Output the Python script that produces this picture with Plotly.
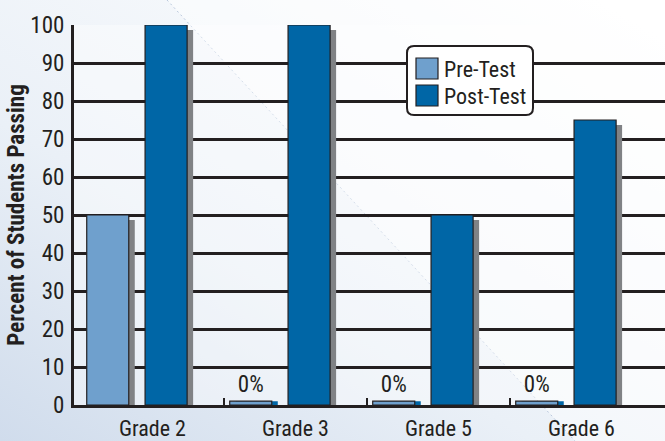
import base64
import plotly.graph_objects as go

# ---- data ----
categories = ["Grade 2", "Grade 3", "Grade 5", "Grade 6"]
pre_test = [50, 0, 0, 0]
post_test = [100, 100, 50, 75]
y_ticks = [0, 10, 20, 30, 40, 50, 60, 70, 80, 90, 100]
series_names = ["Pre-Test", "Post-Test"]
y_title = "Percent of Students Passing"

# ---- style ----
FONT = "Liberation Sans Narrow, Arial Narrow, Roboto Condensed, DejaVu Sans Condensed, sans-serif"
DARK = "#231f20"
PRE_COLOR = "#6fa0cd"
POST_COLOR = "#0066a6"
SHADOW = "#808285"
W, H = 665, 441
ML, MR, MT, MB = 74, 0, 25, 36
PW, PH = W - ML - MR, H - MT - MB

BAR_W = 0.294
PRE_OFF = -0.46
POST_OFF = -0.052
SH_DX = 0.042      # shadow shift right (data units)
SH_DY = 1.3        # shadow shift down (data units)
MIN_VIS = 1.0      # visible stub for zero values

x = list(range(len(categories)))
pre_disp = [max(v, MIN_VIS) for v in pre_test]
post_disp = [max(v, MIN_VIS) for v in post_test]


def shadow_vals(vals):
    return [v - SH_DY if v > SH_DY * 2 else v for v in vals]


def shadow_cols(vals):
    return [SHADOW if v > SH_DY * 2 else POST_COLOR for v in vals]


fig = go.Figure()
# shadows
fig.add_trace(go.Bar(x=x, y=shadow_vals(pre_disp), width=BAR_W, offset=PRE_OFF + SH_DX,
                     marker=dict(color=shadow_cols(pre_disp), line=dict(width=0)),
                     showlegend=False, hoverinfo="skip"))
fig.add_trace(go.Bar(x=x, y=shadow_vals(post_disp), width=BAR_W, offset=POST_OFF + SH_DX,
                     marker=dict(color=shadow_cols(post_disp), line=dict(width=0)),
                     showlegend=False, hoverinfo="skip"))
# bars
fig.add_trace(go.Bar(x=x, y=pre_disp, width=BAR_W, offset=PRE_OFF, name=series_names[0],
                     marker=dict(color=PRE_COLOR, line=dict(color=DARK, width=1.2)),
                     text=["0%" if v == 0 else "" for v in pre_test],
                     textposition="outside", cliponaxis=False,
                     textfont=dict(family=FONT, size=23, color=DARK),
                     showlegend=False))
fig.add_trace(go.Bar(x=x, y=post_disp, width=BAR_W, offset=POST_OFF, name=series_names[1],
                     marker=dict(color=POST_COLOR, line=dict(color=DARK, width=1.2)),
                     text=["0%" if v == 0 else "" for v in post_test],
                     textposition="outside", cliponaxis=False,
                     textfont=dict(family=FONT, size=23, color=DARK),
                     showlegend=False))

# ---- background (gradient) ----
svg = f'''<svg xmlns="http://www.w3.org/2000/svg" width="{W}" height="{H}" viewBox="0 0 {W} {H}">
<defs><linearGradient id="g" x1="0" y1="1" x2="0.9" y2="0">
<stop offset="0" stop-color="#d0dcec"/><stop offset="0.4" stop-color="#eaf0f7"/><stop offset="1" stop-color="#ffffff"/>
</linearGradient></defs>
<rect width="{W}" height="{H}" fill="url(#g)"/>
<polygon points="167,0 {W},0 {W},{H} 575,{H}" fill="#ffffff" opacity="0.45"/>
<line x1="167" y1="0" x2="575" y2="{H}" stroke="#a9bbd4" stroke-width="1" stroke-dasharray="2,3" opacity="0.8"/>
</svg>'''
src = "data:image/svg+xml;base64," + base64.b64encode(svg.encode()).decode()


def px(xp):
    return (xp - ML) / PW


def py(yp):
    return (H - MB - yp) / PH


shapes = [
    dict(type="rect", xref="paper", yref="paper", x0=0, x1=1, y0=0, y1=1,
         fillcolor="rgba(255,255,255,0.4)", line=dict(width=0), layer="below"),
]

# legend box (rounded)
bx0, by0, bx1, by1, r = 407, 46, 533, 115, 7
path = (f"M {px(bx0 + r)},{py(by0)} L {px(bx1 - r)},{py(by0)} "
        f"Q {px(bx1)},{py(by0)} {px(bx1)},{py(by0 + r)} L {px(bx1)},{py(by1 - r)} "
        f"Q {px(bx1)},{py(by1)} {px(bx1 - r)},{py(by1)} L {px(bx0 + r)},{py(by1)} "
        f"Q {px(bx0)},{py(by1)} {px(bx0)},{py(by1 - r)} L {px(bx0)},{py(by0 + r)} "
        f"Q {px(bx0)},{py(by0)} {px(bx0 + r)},{py(by0)} Z")
shapes.append(dict(type="path", xref="paper", yref="paper", path=path,
                   fillcolor="white", line=dict(color=DARK, width=2)))
annotations = []
for i, (name, col) in enumerate(zip(series_names, [PRE_COLOR, POST_COLOR])):
    top = 58 + i * 27
    shapes.append(dict(type="rect", xref="paper", yref="paper",
                       x0=px(416), x1=px(438), y0=py(top + 21), y1=py(top),
                       fillcolor=col, line=dict(color=DARK, width=1.2)))
    annotations.append(dict(xref="paper", yref="paper", x=px(442), y=py(top + 11),
                            xanchor="left", yanchor="middle", showarrow=False,
                            text=name, font=dict(family=FONT, size=22, color=DARK)))

fig.update_layout(
    width=W, height=H,
    margin=dict(l=ML, r=MR, t=MT, b=MB),
    paper_bgcolor="white",
    plot_bgcolor="rgba(0,0,0,0)",
    barmode="overlay",
    font=dict(family=FONT, size=22, color=DARK),
    images=[dict(source=src, xref="paper", yref="paper",
                 x=-ML / PW, y=1 + MT / PH, sizex=W / PW, sizey=H / PH,
                 xanchor="left", yanchor="top", sizing="stretch", layer="below")],
    shapes=shapes,
    annotations=annotations,
    xaxis=dict(range=[-0.549, 3.584], tickmode="array", tickvals=x, ticktext=categories,
               showgrid=False, zeroline=False, showline=True, linecolor=DARK, linewidth=3,
               ticks="", ticklabelstandoff=2,
               minor=dict(tickmode="array", tickvals=[i + 0.5 for i in x[:-1]],
                          ticks="inside", ticklen=7, tickwidth=2, tickcolor=DARK, showgrid=False),
               tickfont=dict(family=FONT, size=22, color=DARK), fixedrange=True),
    yaxis=dict(range=[0, 100], tickmode="array", tickvals=y_ticks,
               showgrid=True, gridcolor=DARK, gridwidth=2.5, zeroline=False,
               showline=True, linecolor=DARK, linewidth=3, ticks="", ticklabelstandoff=2,
               tickfont=dict(family=FONT, size=23, color=DARK),
               title=dict(text=f"<b>{y_title}</b>", standoff=0,
                          font=dict(family=FONT, size=23, color=DARK)),
               fixedrange=True),
    showlegend=False,
)

fig.write_html("out.html", config={"displayModeBar": False},
               post_script="document.body.style.margin='0';document.body.style.padding='0';")
